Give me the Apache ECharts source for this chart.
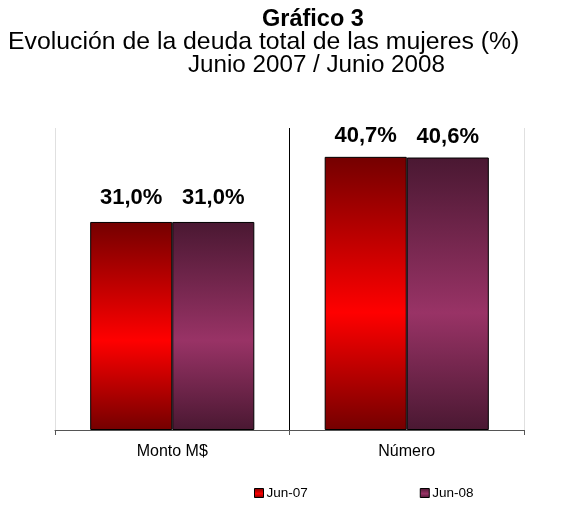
<!DOCTYPE html>
<html>
<head>
<meta charset="utf-8">
<script src="https://cdn.jsdelivr.net/npm/echarts@6/dist/echarts.min.js"></script>
<style>
  html, body { margin: 0; padding: 0; background: #fff; }
  #grafico { width: 562px; height: 512px; }
</style>
</head>
<body>
<div id="grafico"></div>
<script>
const categorias = ['Monto M$', 'Número']
const jun07 = [31.0, 40.7]
const jun08 = [31.0, 40.6]
const series_names = ['Jun-07', 'Jun-08']

const fuente = '"Liberation Sans", Arial, sans-serif'
// distancia de la etiqueta sobre la barra, por categoría
const distancias = [13, 10]

function degradado(extremo, centro) {
  return new echarts.graphic.LinearGradient(0, 0, 0, 1, [
    { offset: 0, color: extremo },
    { offset: 0.57, color: centro },
    { offset: 1, color: extremo },
  ])
}

function conEtiqueta(valores) {
  return valores.map((v, i) => ({ value: v, label: { distance: distancias[i] } }))
}

const etiqueta = {
  show: true,
  position: 'top',
  fontFamily: fuente,
  fontSize: 22,
  fontWeight: 'bold',
  color: '#000',
  formatter: (p) => p.value.toFixed(1).replace('.', ',') + '%',
}

const chart = echarts.init(document.getElementById('grafico'))
chart.setOption({
  backgroundColor: '#fff',
  animation: false,
  title: [
    {
      text: 'Gráfico 3',
      left: 262,
      top: 8,
      padding: 0,
      textStyle: { fontFamily: fuente, fontSize: 23.5, fontWeight: 'bold', color: '#000' },
    },
    {
      text: 'Evolución de la deuda total de las mujeres (%)',
      left: 8,
      top: 30,
      padding: 0,
      textStyle: { fontFamily: fuente, fontSize: 24.8, fontWeight: 'normal', color: '#000' },
    },
    {
      text: 'Junio 2007 / Junio 2008',
      left: 188,
      top: 53,
      padding: 0,
      textStyle: { fontFamily: fuente, fontSize: 24.2, fontWeight: 'normal', color: '#000' },
    },
  ],
  legend: {
    bottom: 7,
    left: 249,
    itemWidth: 9,
    itemHeight: 9,
    itemGap: 112,
    icon: 'rect',
    textStyle: { fontFamily: fuente, fontSize: 13.5, color: '#000', padding: [0, 0, 0, -2] },
    data: series_names.map((n) => ({ name: n, itemStyle: { borderColor: '#000', borderWidth: 1 } })),
  },
  grid: { left: 55, right: 38, top: 128, bottom: 82 },
  xAxis: {
    type: 'category',
    data: categorias,
    axisLine: { lineStyle: { color: '#555', width: 1 } },
    axisTick: { show: true, length: 5, lineStyle: { color: '#555' } },
    axisLabel: { fontFamily: fuente, fontSize: 16, color: '#000', margin: 14 },
    splitLine: { show: true, lineStyle: { color: ['#e0e0e0', '#000', '#e0e0e0'], width: 1 } },
  },
  yAxis: {
    type: 'value',
    min: 0,
    max: 45,
    axisLine: { show: false },
    axisTick: { show: false },
    axisLabel: { show: false },
    splitLine: { show: false },
  },
  series: [
    {
      name: series_names[0],
      type: 'bar',
      data: conEtiqueta(jun07),
      barGap: '0%',
      barCategoryGap: '30%',
      itemStyle: { color: degradado('#740000', '#ff0000'), borderColor: '#000', borderWidth: 1 },
      label: etiqueta,
    },
    {
      name: series_names[1],
      type: 'bar',
      data: conEtiqueta(jun08),
      itemStyle: { color: degradado('#4a1832', '#993366'), borderColor: '#000', borderWidth: 1 },
      label: etiqueta,
    },
  ],
})
</script>
</body>
</html>
